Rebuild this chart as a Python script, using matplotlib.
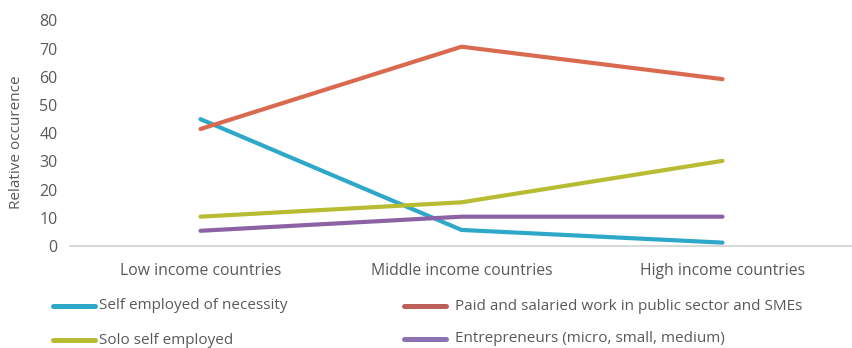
import matplotlib
matplotlib.use("Agg")
import matplotlib.pyplot as plt
from matplotlib.lines import Line2D
from matplotlib import font_manager

categories = ["Low income countries", "Middle income countries", "High income countries"]
self_employed_necessity = [45.0, 5.7, 1.2]
paid_salaried = [41.5, 70.7, 59.2]
solo_self_employed = [10.4, 15.5, 30.2]
entrepreneurs = [5.4, 10.4, 10.4]
y_ticks = [0, 10, 20, 30, 40, 50, 60, 70, 80]

series_names = [
    "Self employed of necessity",
    "Paid and salaried work in public sector and SMEs",
    "Solo self employed",
    "Entrepreneurs (micro, small, medium)",
]
colors = ["#2EA8C9", "#DA6A4F", "#B7BC33", "#8C62A4"]
legend_colors = ["#2EA8C9", "#BE5F59", "#B7BC33", "#8C72B4"]

available = {f.name for f in font_manager.fontManager.ttflist}
legend_font = "Liberation Sans Narrow" if "Liberation Sans Narrow" in available else "Open Sans"

plt.rcParams["font.family"] = ["Open Sans", "DejaVu Sans"]
text_gray = "#595959"

W, H = 853, 348
fig = plt.figure(figsize=(8.53, 3.48), dpi=100)
ax_left, ax_bottom_px, ax_top_px = 70, 246, 20.5
ax = fig.add_axes([ax_left / W, 1 - ax_bottom_px / H, (W - ax_left) / W, (ax_bottom_px - ax_top_px) / H])

x = list(range(len(categories)))
for vals, c in zip([self_employed_necessity, paid_salaried, solo_self_employed, entrepreneurs], colors):
    ax.plot(x, vals, color=c, lw=3.0, solid_capstyle="round", solid_joinstyle="round")

ax.set_xlim(-0.5, len(categories) - 0.5)
ax.set_ylim(0, 80)
ax.set_yticks(y_ticks)
ax.set_xticks(x)
ax.set_xticklabels(categories, fontsize=11.3, color=text_gray)
ax.tick_params(axis="y", length=0, labelsize=11.5, labelcolor=text_gray, pad=9)
ax.tick_params(axis="x", length=0, pad=12)
for side in ["top", "right", "left"]:
    ax.spines[side].set_visible(False)
ax.spines["bottom"].set_color("#D9D9D9")
ax.spines["bottom"].set_linewidth(1.5)
ax.set_ylabel("Relative occurence", fontsize=11, color=text_gray)
ax.yaxis.set_label_coords((17 - ax_left) / (W - ax_left), 0.46)
ax.yaxis.label.set_va("center")

# Legend laid out in two columns below the plot
entries = [
    (53, 95, 99, 305.5, 0),
    (404, 446, 455, 306, 1),
    (53, 95, 99, 340, 2),
    (404, 446, 455, 339, 3),
]
for x0, x1, tx, y, i in entries:
    fig.add_artist(Line2D([x0 / W, x1 / W], [1 - y / H, 1 - y / H], color=legend_colors[i],
                          lw=3.6, solid_capstyle="round"))
    fig.text(tx / W, 1 - y / H, series_names[i], fontsize=11, color=text_gray,
             family=[legend_font, "DejaVu Sans"], va="center", ha="left")

fig.savefig("out.png", dpi=100)
